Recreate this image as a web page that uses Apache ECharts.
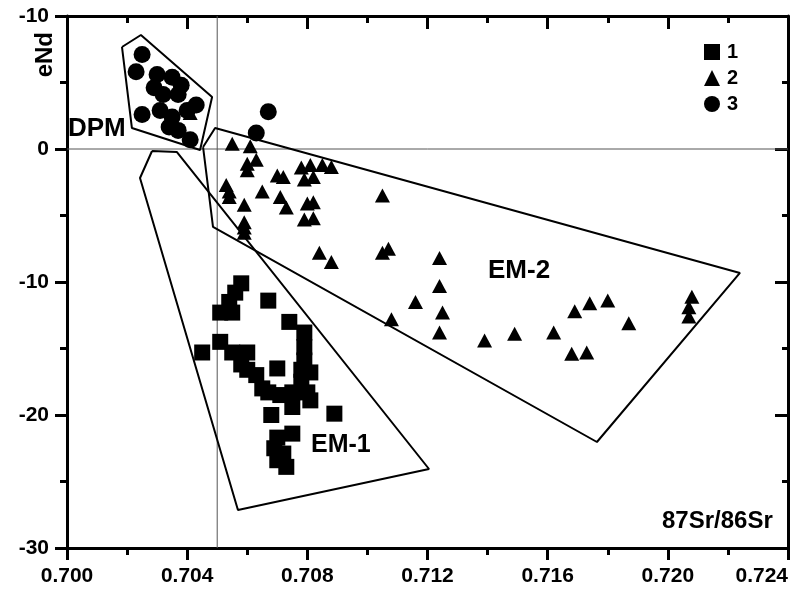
<!DOCTYPE html>
<html>
<head>
<meta charset="utf-8">
<script src="https://cdn.jsdelivr.net/npm/echarts@6/dist/echarts.min.js"></script>
<style>html,body{margin:0;padding:0;background:#fff}#c{width:802px;height:589px}</style>
</head>
<body>
<div id="c"></div>
<script>
// ---- tick labels ----
const xTickValues = [0.700, 0.704, 0.708, 0.712, 0.716, 0.720, 0.724];
const xTickLabels = ['0.700', '0.704', '0.708', '0.712', '0.716', '0.720', '0.724'];
const yTickValues = [10, 0, -10, -20, -30];
const yTickLabels = ['-10', '0', '-10', '-20', '-30'];

// ---- series 1 (squares) : [87Sr/86Sr, eNd] ----
const group1 = [
  [0.7058,-10.1],[0.7056,-10.8],[0.7054,-11.5],[0.7051,-12.3],[0.7055,-12.3],
  [0.7067,-11.4],[0.7074,-13.0],[0.7079,-13.8],[0.7051,-14.5],[0.7045,-15.3],
  [0.7055,-15.3],[0.7060,-15.3],[0.7058,-16.2],[0.7063,-17.0],[0.7060,-16.6],
  [0.7070,-16.5],[0.7079,-14.9],[0.7079,-15.9],[0.7078,-16.6],[0.7081,-16.8],
  [0.7065,-18.0],[0.7067,-18.3],[0.7071,-18.5],[0.7075,-18.3],[0.7080,-18.3],
  [0.7081,-18.9],[0.7075,-19.4],[0.7078,-17.5],[0.7068,-20.0],[0.7089,-19.9],
  [0.7075,-21.4],[0.7070,-21.7],[0.7069,-22.5],[0.7072,-22.9],[0.7070,-23.4],
  [0.7073,-23.9]
];
// ---- series 2 (triangles) ----
const group2 = [
  [0.7041,2.7],[0.7055,0.4],[0.7061,0.2],[0.7063,-0.8],[0.7060,-1.1],
  [0.7060,-1.6],[0.7070,-2.0],[0.7072,-2.1],[0.7078,-1.4],[0.7081,-1.2],
  [0.7085,-1.2],[0.7088,-1.35],[0.7079,-2.3],[0.7082,-2.1],[0.7053,-2.7],
  [0.7054,-3.2],[0.7054,-3.6],[0.7065,-3.2],[0.7071,-3.6],[0.7073,-4.4],
  [0.7059,-4.2],[0.7080,-4.1],[0.7082,-4.0],[0.7079,-5.3],[0.7082,-5.2],
  [0.7059,-5.5],[0.7059,-5.9],[0.7059,-6.3],[0.7105,-3.5],[0.7084,-7.8],
  [0.7088,-8.5],[0.7105,-7.8],[0.7107,-7.5],[0.7124,-8.2],[0.7124,-10.3],
  [0.7116,-11.5],[0.7125,-12.3],[0.7108,-12.8],[0.7124,-13.8],[0.7139,-14.4],
  [0.7149,-13.9],[0.7162,-13.8],[0.7169,-12.2],[0.7174,-11.6],[0.7180,-11.4],
  [0.7187,-13.1],[0.7168,-15.4],[0.7173,-15.3],[0.7208,-11.1],[0.7207,-11.9],
  [0.7207,-12.6]
];
// ---- series 3 (circles) ----
const group3 = [
  [0.7025,7.1],[0.7023,5.8],[0.7030,5.6],[0.7035,5.4],[0.7038,4.8],
  [0.7029,4.6],[0.7032,4.1],[0.7037,4.1],[0.7043,3.3],[0.7040,2.9],
  [0.7025,2.6],[0.7031,2.9],[0.7035,2.4],[0.7034,1.65],[0.7037,1.4],
  [0.7041,0.7],[0.7063,1.2],[0.7067,2.8]
];
// ---- field outlines (vertices) ----
const polyDPM = [[0.70183,7.67],[0.70246,8.57],[0.70483,3.91],[0.70443,-0.08],[0.70216,1.58]];
const polyEM1 = [[0.70283,-0.15],[0.70366,-0.23],[0.71205,-24.06],[0.70569,-27.14],[0.70243,-2.18]];
const polyEM2 = [[0.70453,0.15],[0.70493,1.58],[0.72240,-9.32],[0.71764,-22.03],[0.70486,-5.86]];
// ---- reference lines ----
const refX = 0.705;
const refY = 0;

const X_MIN = 0.700, X_MAX = 0.724, Y_MIN = -30, Y_MAX = 10;

function nearestLabel(values, labels, v) {
  let best = 0, d = Infinity;
  values.forEach((t, i) => { const dd = Math.abs(t - v); if (dd < d) { d = dd; best = i; } });
  return d < 1e-3 ? labels[best] : '';
}
const closed = p => p.concat([p[0]]);

const FONT = '"Liberation Sans", Arial, sans-serif';
const axisLineStyle = { show: true, onZero: false, lineStyle: { color: '#000', width: 3 } };

const chart = echarts.init(document.getElementById('c'), null, { renderer: 'canvas' });

const polyStyle = { color: '#000', width: 2 };
const polySeries = (data) => ({
  type: 'line', data: closed(data), symbol: 'none', silent: true, z: 2,
  lineStyle: polyStyle, itemStyle: { color: '#000' }, animation: false
});

chart.setOption({
  animation: false,
  backgroundColor: '#fff',
  grid: { left: 67, right: 14, top: 16, bottom: 41, outerBoundsMode: 'none', containLabel: false },
  legend: {
    data: ['1', '2', '3'], orient: 'vertical', left: 699, top: 37,
    itemWidth: 16, itemHeight: 16, itemGap: 6,
    textStyle: { fontFamily: FONT, fontWeight: 'bold', fontSize: 20, color: '#000', padding: [0,0,0,2] }
  },
  xAxis: [
    {
      type: 'value', position: 'bottom', min: X_MIN, max: X_MAX, interval: 0.004,
      axisLine: axisLineStyle,
      axisTick: { show: true, inside: false, length: 12, lineStyle: { color: '#000', width: 3 } },
      minorTick: { show: true, splitNumber: 2, length: 7, lineStyle: { color: '#000', width: 3 } },
      splitLine: { show: false },
      axisLabel: {
        margin: 18, fontFamily: FONT, fontWeight: 'bold', fontSize: 21, color: '#000',
        alignMaxLabel: 'right',
        formatter: v => nearestLabel(xTickValues, xTickLabels, v)
      }
    },
    {
      type: 'value', position: 'top', min: X_MIN, max: X_MAX, interval: 0.004,
      axisLine: axisLineStyle,
      axisTick: { show: true, inside: true, length: 13, lineStyle: { color: '#000', width: 3 } },
      minorTick: { show: true, splitNumber: 2, length: 7, lineStyle: { color: '#000', width: 3 } },
      splitLine: { show: false }, axisLabel: { show: false }
    }
  ],
  yAxis: [
    {
      type: 'value', position: 'left', min: Y_MIN, max: Y_MAX, interval: 10,
      axisLine: axisLineStyle,
      axisTick: { show: true, inside: false, length: 12, lineStyle: { color: '#000', width: 3 } },
      minorTick: { show: true, splitNumber: 2, length: 7, lineStyle: { color: '#000', width: 3 } },
      splitLine: { show: false },
      axisLabel: {
        margin: 18, fontFamily: FONT, fontWeight: 'bold', fontSize: 21, color: '#000',
        formatter: v => nearestLabel(yTickValues, yTickLabels, v)
      }
    },
    {
      type: 'value', position: 'right', min: Y_MIN, max: Y_MAX, interval: 10,
      axisLine: axisLineStyle,
      axisTick: { show: true, inside: true, length: 13, lineStyle: { color: '#000', width: 3 } },
      minorTick: { show: true, splitNumber: 2, length: 6, lineStyle: { color: '#000', width: 3 } },
      splitLine: { show: false }, axisLabel: { show: false }
    }
  ],
  graphic: [
    { type: 'text', left: 33, top: 32, rotation: Math.PI / 2,
      style: { text: 'eNd', font: 'bold 24px ' + FONT, fill: '#000' } },
    { type: 'text', left: 68, top: 116,
      style: { text: 'DPM', font: 'bold 26px ' + FONT, fill: '#000' } },
    { type: 'text', left: 311, top: 433,
      style: { text: 'EM-1', font: 'bold 25px ' + FONT, fill: '#000' } },
    { type: 'text', left: 488, top: 258,
      style: { text: 'EM-2', font: 'bold 26px ' + FONT, fill: '#000' } },
    { type: 'text', left: 662, top: 509,
      style: { text: '87Sr/86Sr', font: 'bold 24px ' + FONT, fill: '#000' } }
  ],
  series: [
    { type: 'line', data: [[refX, Y_MAX], [refX, Y_MIN]], symbol: 'none', silent: true, z: 1,
      lineStyle: { color: '#555', width: 1 } },
    { type: 'line', data: [[X_MIN, refY], [X_MAX, refY]], symbol: 'none', silent: true, z: 1,
      lineStyle: { color: '#555', width: 1 } },
    polySeries(polyDPM),
    polySeries(polyEM1),
    polySeries(polyEM2),
    { name: '1', type: 'scatter', data: group1, symbol: 'rect', symbolSize: 16, z: 5,
      itemStyle: { color: '#000', opacity: 1 } },
    { name: '2', type: 'scatter', data: group2, symbol: 'triangle', symbolSize: [15, 14], z: 5,
      itemStyle: { color: '#000', opacity: 1 } },
    { name: '3', type: 'scatter', data: group3, symbol: 'circle', symbolSize: 17, z: 5,
      itemStyle: { color: '#000', opacity: 1 } }
  ]
});
</script>
</body>
</html>
